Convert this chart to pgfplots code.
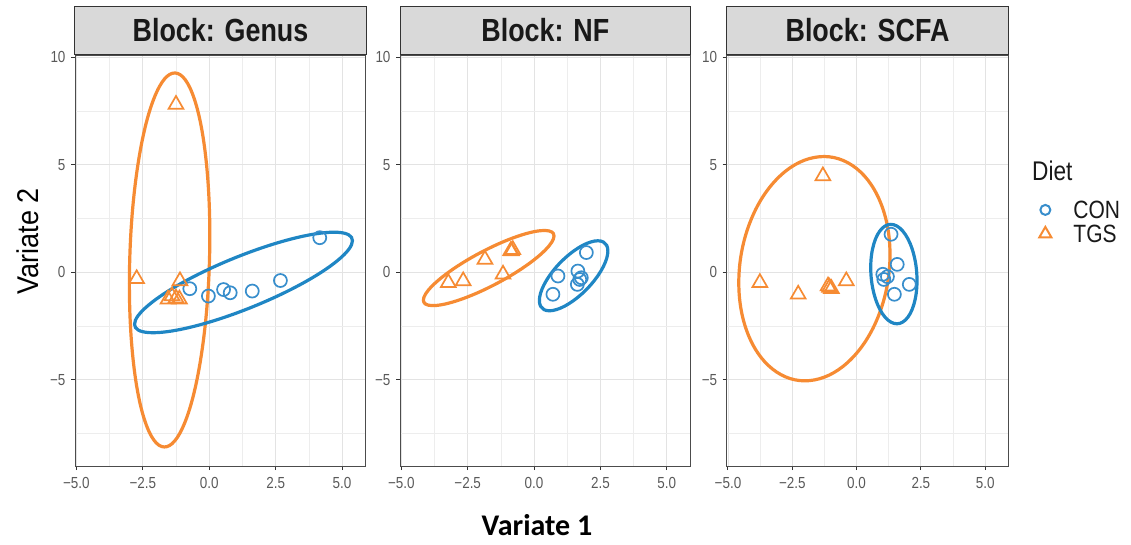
\documentclass[border=0pt]{standalone}
\usepackage{fontspec}
\setmainfont{Liberation Sans}
\newfontfamily\narrow{Liberation Sans}[FakeStretch=0.84]
\newfontfamily\ylabfont{Liberation Sans}[FakeStretch=0.9]
\newfontfamily\carlito{Carlito}
\usepackage{pgfplots}
\pgfplotsset{compat=1.18}
\definecolor{conblue}{HTML}{388ECC}
\definecolor{conblueE}{HTML}{1F86C4}
\definecolor{tgsorange}{HTML}{F68B33}
\definecolor{stripgray}{HTML}{D9D9D9}
\pgfplotsset{
  every axis title shift=0pt,
  panel/.style={
    scale only axis, height=411pt,
    xmin=-5.05, xmax=5.9, ymin=-9, ymax=10.1,
    xtick={-5,-2.5,0,2.5,5}, xticklabels={−5.0,−2.5,0.0,2.5,5.0},
    ytick={-5,0,5,10}, yticklabels={−5,0,5,10},
    minor xtick={-3.75,-1.25,1.25,3.75}, minor ytick={-7.5,-2.5,2.5,7.5},
    grid=both,
    major grid style={draw=black!11, line width=0.9pt},
    minor grid style={draw=black!7, line width=0.7pt},
    axis line style={draw=black!70, line width=1pt},
    tick pos=left, tick align=outside,
    major tick length=4pt, minor tick length=0pt,
    every tick/.style={draw=black!80, line width=1pt},
    ticklabel style={font=\narrow\fontsize{16}{16}\selectfont, text=black!65},
    xticklabel style={yshift=-4pt},
    yticklabel style={xshift=-2pt},
    title style={at={(0.5,1)}, anchor=south, yshift=0pt, fill=stripgray, draw=black!80, line width=1pt,
      minimum height=48pt, inner sep=0pt, text=black!90,
      font=\narrow\bfseries\fontsize{32}{32}\selectfont},
  },
  tgs/.style={only marks, mark=triangle, mark size=8.5pt, draw=tgsorange, mark options={line width=1.7pt, draw=tgsorange, fill=none}},
  con/.style={only marks, mark=o, mark size=6.5pt, draw=conblue, mark options={line width=1.7pt, draw=conblue, fill=none}},
  ell/.style={smooth cycle, tension=0.64, line width=3.2pt, no markers},
}
\begin{document}
\begin{tikzpicture}
\useasboundingbox (0,0) rectangle (1131pt,-544pt);

% ---------- Panel 1: Genus ----------
\begin{axis}[panel, width=291pt, at={(75pt,-466pt)}, anchor=south west,
  title={Block: Genus}, title style={minimum width=291pt}]
\addplot[con] coordinates {(4.16,1.61) (2.68,-0.38) (1.62,-0.87) (0.79,-0.95) (0.54,-0.80) (-0.03,-1.10) (-0.73,-0.76)};
\addplot[tgs] coordinates {(-1.25,7.80) (-2.73,-0.30) (-1.10,-0.40) (-1.55,-1.25) (-1.40,-1.10) (-1.25,-1.20) (-1.12,-1.25)};
\addplot[ell, draw=tgsorange] coordinates {(-1.29,9.265) (-0.567,8.083) (-0.091,4.89) (0.01,0.54) (-0.291,-3.80) (-0.913,-6.968) (-1.69,-8.115) (-2.413,-6.933) (-2.889,-3.74) (-2.99,0.61) (-2.689,4.95) (-2.067,8.118)};
\addplot[ell, draw=conblueE] coordinates {(5.39,1.47) (4.841,1.86) (3.34,1.626) (1.29,0.83) (-0.76,-0.314) (-2.261,-1.50) (-2.81,-2.41) (-2.261,-2.80) (-0.76,-2.566) (1.29,-1.77) (3.34,-0.626) (4.841,0.56)};
\end{axis}

% ---------- Panel 2: NF ----------
\begin{axis}[panel, width=290.7pt, at={(400pt,-466pt)}, anchor=south west,
  title={Block: NF}, title style={minimum width=290.7pt}]
\addplot[con] coordinates {(0.71,-1.02) (0.90,-0.17) (1.97,0.92) (1.65,0.06) (1.72,-0.33) (1.63,-0.56) (1.78,-0.25)};
\addplot[tgs] coordinates {(-3.23,-0.48) (-2.67,-0.40) (-1.85,0.60) (-1.17,-0.09) (-0.85,0.99) (-0.80,1.05) (-0.88,1.00)};
\addplot[ell, draw=tgsorange] coordinates {(0.75,1.69) (0.42,1.945) (-0.48,1.733) (-1.71,1.11) (-2.94,0.243) (-3.84,-0.635) (-4.17,-1.29) (-3.84,-1.545) (-2.94,-1.333) (-1.71,-0.71) (-0.48,0.157) (0.42,1.035)};
\addplot[ell, draw=conblueE] coordinates {(2.78,0.99) (2.607,1.411) (2.135,1.411) (1.49,0.99) (0.845,0.261) (0.373,-0.581) (0.20,-1.31) (0.373,-1.731) (0.845,-1.731) (1.49,-1.31) (2.135,-0.581) (2.607,0.261)};
\end{axis}

% ---------- Panel 3: SCFA ----------
\begin{axis}[panel, width=281.6pt, at={(726.7pt,-466pt)}, anchor=south west,
  title={Block: SCFA}, title style={minimum width=281.6pt},
  legend style={at={(1.11,0.645)}, anchor=north west, draw=none, fill=none,
    inner sep=0pt, outer sep=0pt, row sep=6pt,
    font=\narrow\fontsize{25}{25}\selectfont, text=black!90,
    nodes={inner sep=0pt, text height=18pt, text depth=0pt},
    /tikz/every odd column/.append style={column sep=22pt}},
  legend cell align=left]
\addlegendimage{only marks, mark=o, mark size=5pt, draw=conblue, mark options={line width=2pt, draw=conblue, fill=none}}
\addlegendimage{only marks, mark=triangle, mark size=7pt, draw=tgsorange, mark options={line width=2pt, draw=tgsorange, fill=none}}
\addplot[con, forget plot] coordinates {(1.34,1.77) (1.58,0.37) (1.02,-0.09) (1.06,-0.33) (1.20,-0.20) (2.05,-0.56) (1.47,-1.02)};
\addplot[tgs, forget plot] coordinates {(-1.31,4.48) (-3.76,-0.48) (-2.27,-1.02) (-1.11,-0.64) (-0.98,-0.76) (-0.40,-0.40) (-1.05,-0.70)};
\addplot[ell, draw=tgsorange, forget plot] coordinates {(1.30,0.82) (0.906,3.318) (-0.17,4.972) (-1.64,5.34) (-3.11,4.322) (-4.186,2.192) (-4.58,-0.48) (-4.186,-2.978) (-3.11,-4.632) (-1.64,-5.0) (-0.17,-3.982) (0.906,-1.852)};
\addplot[ell, draw=conblueE, forget plot] coordinates {(2.35,-0.38) (2.229,0.805) (1.90,1.753) (1.45,2.21) (1.0,2.053) (0.671,1.325) (0.55,0.22) (0.671,-0.965) (1.0,-1.913) (1.45,-2.37) (1.90,-2.213) (2.229,-1.485)};
\legend{CON,TGS}
\end{axis}

% ---------- texts ----------
\node[anchor=base west, inner sep=0pt, text=black!90, font=\narrow\fontsize{27}{27}\selectfont] at (1032pt,-180pt) {Diet};
\node[anchor=base, inner sep=0pt, font=\carlito\bfseries\fontsize{30}{30}\selectfont] at (537pt,-535pt) {Variate 1};
\node[anchor=base, rotate=90, inner sep=0pt, font=\ylabfont\fontsize{30}{30}\selectfont] at (38pt,-241pt) {Variate 2};
\end{tikzpicture}
\end{document}
